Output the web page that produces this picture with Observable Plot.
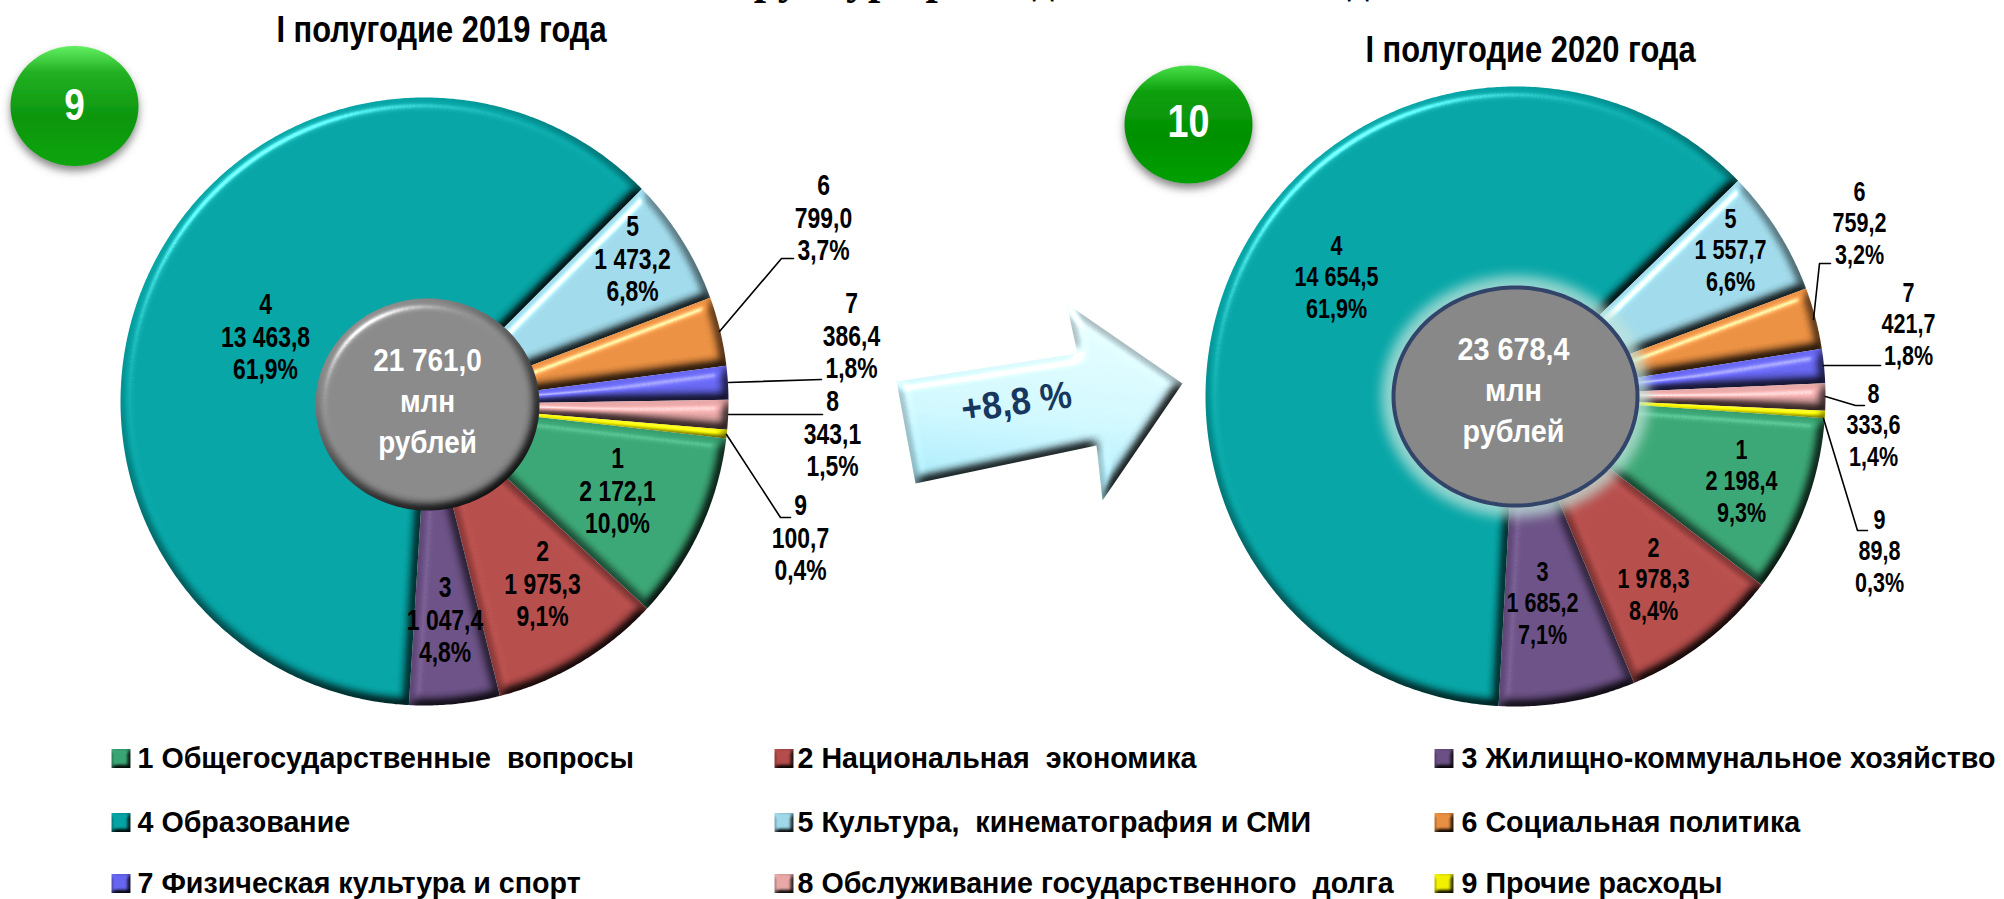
<!DOCTYPE html>
<html><head><meta charset="utf-8">
<script src="https://cdn.jsdelivr.net/npm/d3@7"></script>
<script src="https://cdn.jsdelivr.net/npm/@observablehq/plot@0.6"></script>
<style>html,body{margin:0;padding:0;background:#fff;overflow:hidden}</style>
</head><body><div id="chart"></div>
<script>
const categories = ["1","2","3","4","5","6","7","8","9"];
const legendNames = ["1 Общегосударственные  вопросы","2 Национальная  экономика","3 Жилищно-коммунальное хозяйство","4 Образование","5 Культура,  кинематография и СМИ","6 Социальная политика","7 Физическая культура и спорт","8 Обслуживание государственного  долга","9 Прочие расходы"];
const values2019 = [2172.1,1975.3,1047.4,13463.8,1473.2,799.0,386.4,343.1,100.7];
const values2020 = [2198.4,1978.3,1685.2,14654.5,1557.7,759.2,421.7,333.6,89.8];
const shares2019 = ["10,0%","9,1%","4,8%","61,9%","6,8%","3,7%","1,8%","1,5%","0,4%"];
const shares2020 = ["9,3%","8,4%","7,1%","61,9%","6,6%","3,2%","1,8%","1,4%","0,3%"];
const amounts2019 = ["2 172,1","1 975,3","1 047,4","13 463,8","1 473,2","799,0","386,4","343,1","100,7"];
const amounts2020 = ["2 198,4","1 978,3","1 685,2","14 654,5","1 557,7","759,2","421,7","333,6","89,8"];
const sliceColors = ["#3aa574","#b44c4a","#6a5084","#05a3a4","#9fd8e8","#e98f41","#6666f0","#e8a8a8","#f2f200"];
const titles = ["I полугодие 2019 года","I полугодие 2020 года"];
const totals = ["21 761,0\nмлн\nрублей","23 678,4\nмлн\nрублей"];

// layout (pixels on the 2004x899 page)
const pieLeft = {cx:424,cy:401,r:304,hrx:112,hry:106,hcx:427,hcy:404,start:97};
const pieRight = {cx:1515,cy:396,r:310,hrx:122,hry:109,hcx:1515,hcy:396,start:94};
const labelX2019 = [617,542,444.5,265,632,823,851,832,800];
const labelY2019 = [490,583,619,336,258,217,335,433,537];
const labelX2020 = [1741,1653,1542,1336,1730,1859,1908,1873,1879];
const labelY2020 = [480,578,602,276,249,222,323,424,550];

const ellipse = (cx,cy,rx,ry) => {const c=[];for(let a=0;a<=360;a+=2){const t=a*Math.PI/180;c.push([cx+rx*Math.cos(t),cy+ry*Math.sin(t)]);}return c;};
const poly = (coordinates,props={}) => ({type:"Feature",properties:props,geometry:{type:"Polygon",coordinates:[coordinates]}});
const lineF = (coordinates) => ({type:"Feature",properties:{},geometry:{type:"LineString",coordinates}});

function slices(values,p){
  const total=d3.sum(values);let a=p.start;
  return values.map((v,i)=>{
    const da=v/total*360,c=[[p.hcx,p.hcy]];
    for(let t=a;;t+=0.5){const e=Math.min(t,a+da),r=e*Math.PI/180;c.push([p.cx+p.r*Math.sin(r),p.cy-p.r*Math.cos(r)]);if(t>=a+da)break;}
    c.push(c[0]);a+=da;
    return poly(c,{cat:categories[i]});
  });
}
const table=(amounts,shares,xs,ys)=>categories.map((c,i)=>({t:`${c}\n${amounts[i]}\n${shares[i]}`,x:xs[i],y:ys[i]}));
const legend=legendNames.map((n,i)=>({n,cat:categories[i],col:i%3,row:Math.floor(i/3)}));
const legX=[120.5,783.5,1443.5],legT=[137,797,1461],legY=[758,822,883];

const leaders=[
 [[719,331],[781,258],[793,258]],[[728,382],[821,379]],[[728,414],[822,414]],[[726,434],[780,517],[790,517]],
 [[1813,319],[1819,263],[1830,263]],[[1823,365],[1880,365]],[[1825,396],[1855,405],[1864,405]],[[1823,418],[1857,530],[1867,530]]
].map(lineF);
const arrow=poly([[896,381],[1077,353],[1066,303],[1182,383],[1102,500],[1096,445],[915,483],[896,381]]);

const font='"Liberation Sans",Arial,sans-serif';
const defs=()=>{
 const s=d3.create("svg:defs");
 s.html(`
 <filter id="bevel" filterUnits="userSpaceOnUse" x="0" y="0" width="2004" height="899" color-interpolation-filters="sRGB">
  <feGaussianBlur in="SourceAlpha" stdDeviation="5.5" result="b"/>
  <feDiffuseLighting in="b" surfaceScale="9" diffuseConstant="1.155" lighting-color="#fff" result="d"><feDistantLight azimuth="235" elevation="60"/></feDiffuseLighting>
  <feComposite in="SourceGraphic" in2="d" operator="arithmetic" k1="1" result="m"/>
  <feSpecularLighting in="b" surfaceScale="9" specularConstant=".5" specularExponent="30" lighting-color="#fff" result="sp"><feDistantLight azimuth="235" elevation="35"/></feSpecularLighting>
  <feComposite in="sp" in2="SourceAlpha" operator="in" result="sp2"/>
  <feComposite in="m" in2="sp2" operator="arithmetic" k2="1" k3="1"/>
 </filter>
 <filter id="bevelS" filterUnits="objectBoundingBox" x="-10%" y="-10%" width="120%" height="120%" color-interpolation-filters="sRGB">
  <feGaussianBlur in="SourceAlpha" stdDeviation="2" result="b"/>
  <feDiffuseLighting in="b" surfaceScale="5" diffuseConstant="1.155" lighting-color="#fff" result="d"><feDistantLight azimuth="235" elevation="60"/></feDiffuseLighting>
  <feComposite in="SourceGraphic" in2="d" operator="arithmetic" k1="1"/>
 </filter>
 <filter id="shadow" x="-20%" y="-20%" width="140%" height="140%">
  <feDropShadow dx="0" dy="5" stdDeviation="4" flood-color="#555" flood-opacity=".7"/>
 </filter>
 <filter id="glow" x="-20%" y="-20%" width="140%" height="140%"><feGaussianBlur stdDeviation="6"/></filter>
 <linearGradient id="green" x1="0" y1="0" x2="0" y2="1">
  <stop offset="0" stop-color="#62f062"/><stop offset=".22" stop-color="#22b022"/><stop offset=".6" stop-color="#0c960f"/><stop offset="1" stop-color="#10a510"/>
 </linearGradient>
 <linearGradient id="green2" x1="0" y1="0" x2="0" y2="1">
  <stop offset="0" stop-color="#48e048"/><stop offset=".22" stop-color="#0ea00e"/><stop offset=".6" stop-color="#029002"/><stop offset="1" stop-color="#06a006"/>
 </linearGradient>
 <linearGradient id="arrowFill" x1="0" y1="1" x2=".15" y2="0">
  <stop offset="0" stop-color="#a0e6f4"/><stop offset=".5" stop-color="#d0f6ff"/><stop offset="1" stop-color="#e4fbff"/>
 </linearGradient>`);
 return s.node();
};
const txt=(data,o)=>Plot.text(data,{fontFamily:font,fontWeight:700,...o});

const chart=Plot.plot({
 width:2004,height:899,margin:0,
 projection:"identity",
 color:{domain:categories,range:sliceColors},
 marks:[
  defs,
  txt(["Структура расходов местных бюджетов"],{x:()=>700,y:()=>0,dy:-21,text:d=>d,textAnchor:"start",fontFamily:'"Liberation Serif",serif',fontSize:44,fill:"#000"}),
  Plot.geo([arrow],{fill:"url(#arrowFill)",className:"bev"}),
  Plot.geo(slices(values2019,pieLeft),{fill:d=>d.properties.cat,className:"bev"}),
  Plot.geo(slices(values2020,pieRight),{fill:d=>d.properties.cat,className:"bev"}),
  Plot.geo([poly(ellipse(pieRight.hcx,pieRight.hcy,pieRight.hrx+12,pieRight.hry+12))],{fill:"#c0e4dc",fillOpacity:.75,className:"glow"}),
  Plot.geo([poly(ellipse(pieLeft.hcx,pieLeft.hcy,pieLeft.hrx,pieLeft.hry))],{fill:"#888",className:"bev"}),
  Plot.geo([poly(ellipse(pieRight.hcx,pieRight.hcy,pieRight.hrx,pieRight.hry))],{fill:"#888",stroke:"#33446a",strokeWidth:4}),
  Plot.geo([poly(ellipse(74,105.5,64,60))],{fill:"url(#green)",className:"shad"}),
  Plot.geo([poly(ellipse(1188,124,64,59))],{fill:"url(#green2)",className:"shad"}),
  Plot.geo(leaders,{stroke:"#000",strokeWidth:1.6,fill:"none"}),
  txt(table(amounts2019,shares2019,labelX2019,labelY2019),{x:"x",y:"y",text:"t",fontSize:29,lineHeight:1.12,fill:"#000",className:"sx79"}),
  txt(table(amounts2020,shares2020,labelX2020,labelY2020),{x:"x",y:"y",text:"t",fontSize:28,lineHeight:1.11,fill:"#000",className:"sx77"}),
  txt([titles[0]],{x:()=>441,y:()=>30,text:d=>d,fontSize:36,fill:"#000",className:"sx857"}),
  txt([titles[1]],{x:()=>1530,y:()=>50,text:d=>d,fontSize:36,fill:"#000",className:"sx857"}),
  txt([totals[0]],{x:()=>427,y:()=>398,text:d=>d,fontSize:31,lineHeight:1.32,fill:"#fff",className:"sx9"}),
  txt([totals[1]],{x:()=>1513,y:()=>387,text:d=>d,fontSize:32,lineHeight:1.28,fill:"#fff",className:"sx9"}),
  txt(["9"],{x:()=>74,y:()=>105,text:d=>d,fontSize:45,fill:"#fff",className:"sx82"}),
  txt(["10"],{x:()=>1188,y:()=>122,text:d=>d,fontSize:46,fill:"#fff",className:"sx82"}),
  txt(["+8,8 %"],{x:()=>1016,y:()=>402,text:d=>d,fontSize:38,rotate:-8,fill:"#17375e",className:"sx93"}),
  Plot.dot(legend,{x:d=>legX[d.col],y:d=>legY[d.row],symbol:"square",r:10.7,fill:"cat",className:"sw"}),
  txt(legend,{x:d=>legT[d.col],y:d=>legY[d.row],text:"n",textAnchor:"start",fontSize:30,fill:"#000",style:"white-space:pre",className:"sx955"})
 ]
});
chart.style.display="block";
document.getElementById("chart").appendChild(chart);
const sel=d3.select(chart);
sel.selectAll(".bev path").attr("filter","url(#bevel)");
sel.selectAll(".shad path").attr("filter","url(#shadow)");
sel.selectAll(".glow path").attr("filter","url(#glow)");
sel.selectAll(".sw path").attr("filter","url(#bevelS)");
// Narrow the glyphs horizontally, as in the reference's condensed type.
for (const [cls,k] of [["sx79",.79],["sx77",.77],["sx82",.82],["sx857",.857],["sx9",.9],["sx93",.93],["sx955",.955]])
  sel.selectAll(`.${cls} text`).attr("transform",function(){return `${this.getAttribute("transform")||""} scale(${k},1)`;});
</script></body></html>
